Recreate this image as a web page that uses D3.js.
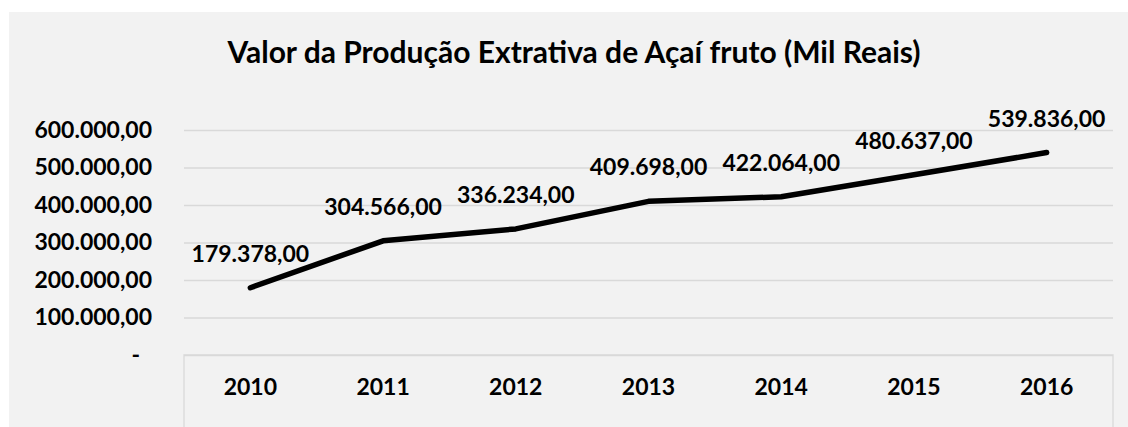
<!DOCTYPE html>
<html>
<head>
<meta charset="utf-8">
<script src="https://cdn.jsdelivr.net/npm/d3@7"></script>
<style>
  body { margin: 0; background: #fff; }
  svg text { font-family: Lato, "Open Sans", sans-serif; font-weight: bold; fill: #000; }
</style>
</head>
<body>
<div id="chart"></div>
<script>
const years = ["2010", "2011", "2012", "2013", "2014", "2015", "2016"];
const values = [179378, 304566, 336234, 409698, 422064, 480637, 539836];
const yTicks = [0, 100000, 200000, 300000, 400000, 500000, 600000];
const title = "Valor da Produção Extrativa de Açaí fruto (Mil Reais)";

const svgWidth = 1128;
const svgHeight = 427;
const margin = { top: 130, right: 15, bottom: 72, left: 184 };
const chartWidth = svgWidth - margin.left - margin.right;
const chartHeight = svgHeight - margin.top - margin.bottom;

const br = d3.formatLocale({ decimal: ",", thousands: ".", grouping: [3], currency: ["R$", ""] });
const fmt = br.format(",.2f");

const svg = d3.select("#chart")
  .append("svg")
  .attr("width", svgWidth)
  .attr("height", svgHeight);

// chart area background
svg.append("rect")
  .attr("x", 9).attr("y", 12)
  .attr("width", svgWidth - 9).attr("height", svgHeight - 12)
  .attr("fill", "#f2f2f2");

svg.append("text")
  .attr("x", 574).attr("y", 63)
  .attr("text-anchor", "middle")
  .style("font-size", "30px")
  .text(title);

const g = svg.append("g")
  .attr("transform", `translate(${margin.left},${margin.top})`);

const x = d3.scaleBand()
  .domain(years)
  .range([0, chartWidth]);

const y = d3.scaleLinear()
  .domain([0, 600000])
  .range([chartHeight, 0]);

// gridlines + y labels
const yAxis = g.append("g")
  .call(d3.axisLeft(y)
    .tickValues(yTicks)
    .tickSize(-chartWidth)
    .tickPadding(32)
    .tickFormat(d => d === 0 ? "-" : fmt(d)));
yAxis.select(".domain").remove();
yAxis.selectAll(".tick line").attr("stroke", "#d9d9d9").attr("stroke-width", 1.3);
yAxis.selectAll(".tick text").style("font-size", "23px");
yAxis.selectAll(".tick").filter(d => d === 0).select("text").attr("dx", -12);

// category axis box
const xAxis = g.append("g")
  .attr("transform", `translate(0,${chartHeight})`)
  .call(d3.axisBottom(x).tickSize(0).tickPadding(24));
xAxis.select(".domain").remove();
xAxis.selectAll(".tick text").style("font-size", "23px");
g.append("path")
  .attr("d", `M0,${svgHeight}V${chartHeight}H${chartWidth}V${svgHeight}`)
  .attr("fill", "none")
  .attr("stroke", "#d9d9d9")
  .attr("stroke-width", 1.3);

const cx = d => x(d) + x.bandwidth() / 2;

g.append("path")
  .datum(values)
  .attr("fill", "none")
  .attr("stroke", "#000")
  .attr("stroke-width", 5.5)
  .attr("stroke-linecap", "round")
  .attr("stroke-linejoin", "round")
  .attr("d", d3.line()
    .x((d, i) => cx(years[i]))
    .y(d => y(d)));

g.selectAll(".label")
  .data(values)
  .join("text")
  .attr("class", "label")
  .attr("x", (d, i) => cx(years[i]))
  .attr("y", d => y(d) - 34)
  .attr("dy", "0.35em")
  .attr("text-anchor", "middle")
  .style("font-size", "23px")
  .text(d => fmt(d));
</script>
</body>
</html>
